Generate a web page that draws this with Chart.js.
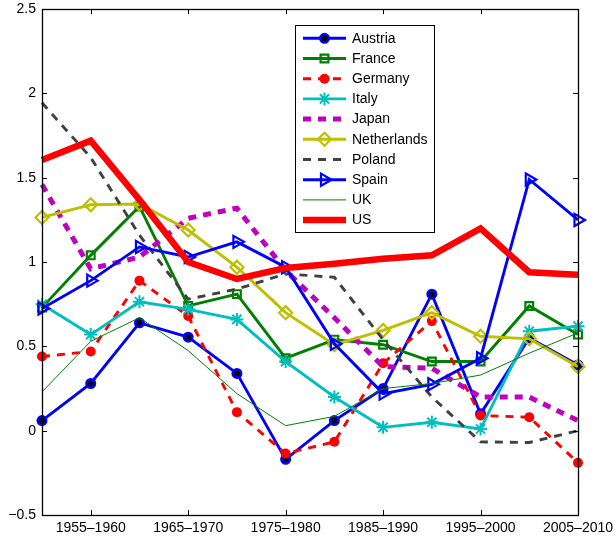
<!DOCTYPE html>
<html>
<head>
<meta charset="utf-8">
<script src="https://cdn.jsdelivr.net/npm/chart.js@4/dist/chart.umd.min.js"></script>
<style>
  html, body { margin: 0; padding: 0; background: #fff; }
</style>
</head>
<body>
<canvas id="chart" width="615" height="539"></canvas>
<script>
const periods = ["1950–1955", "1955–1960", "1960–1965", "1965–1970", "1970–1975", "1975–1980",
  "1980–1985", "1985–1990", "1990–1995", "1995–2000", "2000–2005", "2005–2010"];

const austria = [0.06, 0.28, 0.64, 0.555, 0.34, -0.17, 0.06, 0.25, 0.81, 0.10, 0.55, 0.39];
const france = [0.73, 1.04, 1.33, 0.74, 0.81, 0.43, 0.54, 0.51, 0.41, 0.41, 0.74, 0.57];
const germany = [0.44, 0.47, 0.89, 0.68, 0.11, -0.135, -0.066, 0.40, 0.65, 0.09, 0.08, -0.19];
const italy = [0.75, 0.57, 0.765, 0.72, 0.66, 0.41, 0.20, 0.02, 0.05, 0.01, 0.59, 0.62];
const japan = [1.46, 0.96, 1.03, 1.26, 1.32, 0.95, 0.67, 0.38, 0.37, 0.20, 0.20, 0.06];
const netherlands = [1.265, 1.34, 1.345, 1.19, 0.97, 0.70, 0.51, 0.595, 0.70, 0.56, 0.545, 0.38];
const poland = [1.945, 1.62, 1.16, 0.78, 0.84, 0.93, 0.91, 0.54, 0.20, -0.066, -0.07, 0.0];
const spain = [0.725, 0.89, 1.09, 1.03, 1.12, 0.97, 0.515, 0.22, 0.275, 0.43, 1.49, 1.25];
const uk = [0.23, 0.53, 0.67, 0.475, 0.22, 0.03, 0.085, 0.25, 0.28, 0.33, 0.46, 0.58];
const us = [1.605, 1.72, 1.37, 1.0, 0.90, 0.965, 0.99, 1.02, 1.04, 1.20, 0.94, 0.925];

const FONT = "'Liberation Sans', Arial, Helvetica, sans-serif";
const none = "rgba(0,0,0,0)";

function series(label, data, color, opts) {
  return Object.assign({
    label, data,
    borderColor: color,
    borderWidth: 2.9,
    pointStyle: false,
    pointRadius: 0,
    pointBorderColor: color,
    pointBackgroundColor: none,
    pointBorderWidth: 2,
    tension: 0,
    clip: false,
  }, opts);
}

const datasets = [
  series("Austria", austria, "#0000ff", { pointStyle: "circle", pointRadius: 4.2, pointBorderWidth: 2.6, pointBackgroundColor: "#000" }),
  series("France", france, "#008000", { pointStyle: "rect", pointRadius: 5.5, pointBorderWidth: 2.2 }),
  series("Germany", germany, "#ff0000", { borderDash: [8, 7], pointStyle: "circle", pointRadius: 5, pointBorderWidth: 0, pointBackgroundColor: "#ff0000" }),
  series("Italy", italy, "#00bfbf", { pointStyle: "star", pointRadius: 6.5, pointBorderWidth: 2 }),
  series("Japan", japan, "#bf00bf", { borderWidth: 5, borderDash: [8, 7] }),
  series("Netherlands", netherlands, "#bfbf00", { pointStyle: "rectRot", pointRadius: 6.5, pointBorderWidth: 2.2 }),
  series("Poland", poland, "#404040", { borderDash: [8, 7] }),
  series("Spain", spain, "#0000ff", { pointStyle: "triangle", pointRotation: 90, pointRadius: 7, pointBorderWidth: 2.2 }),
  series("UK", uk, "#008000", { borderWidth: 1 }),
  series("US", us, "#ff0000", { borderWidth: 6.5 }),
];
// later series drawn on top, like the original
datasets.forEach((d, i) => { d.order = datasets.length - i; });

const axesBox = {
  id: "axesBox",
  afterDatasetsDraw(chart) {
    const { ctx, chartArea: a, scales: { x, y } } = chart;
    ctx.save();
    ctx.strokeStyle = "#000";
    ctx.lineWidth = 1;
    ctx.setLineDash([]);
    ctx.beginPath();
    y.ticks.forEach((t, i) => {
      const py = Math.round(y.getPixelForTick(i)) + 0.5;
      ctx.moveTo(a.left, py); ctx.lineTo(a.left + 5, py);
      ctx.moveTo(a.right, py); ctx.lineTo(a.right - 5, py);
    });
    x.ticks.forEach((t, i) => {
      if (i % 2 !== 1) return;
      const px = Math.round(x.getPixelForTick(i)) + 0.5;
      ctx.moveTo(px, a.bottom); ctx.lineTo(px, a.bottom - 5);
      ctx.moveTo(px, a.top); ctx.lineTo(px, a.top + 5);
    });
    ctx.stroke();
    ctx.lineWidth = 1.3;
    ctx.strokeRect(Math.round(a.left) + 0.5, Math.round(a.top) + 0.5,
      Math.round(a.right - a.left), Math.round(a.bottom - a.top));
    ctx.restore();
  },
};

const boxLegend = {
  id: "boxLegend",
  afterDraw(chart) {
    const ctx = chart.ctx;
    const left = 295, top = 25, right = 434, bottom = 232;
    ctx.save();
    ctx.fillStyle = "#fff";
    ctx.fillRect(left, top, right - left, bottom - top);
    ctx.strokeStyle = "#000";
    ctx.lineWidth = 1;
    ctx.strokeRect(left + 0.5, top + 0.5, right - left, bottom - top);
    chart.data.datasets.forEach((d, i) => {
      const yy = 38.3 + i * 20.2;
      ctx.strokeStyle = d.borderColor;
      ctx.lineWidth = d.borderWidth;
      ctx.setLineDash(d.borderDash || []);
      ctx.beginPath();
      ctx.moveTo(303, yy);
      ctx.lineTo(346, yy);
      ctx.stroke();
      if (d.pointStyle) {
        ctx.setLineDash([]);
        ctx.fillStyle = d.pointBackgroundColor;
        ctx.strokeStyle = d.pointBorderColor;
        ctx.lineWidth = d.pointBorderWidth;
        Chart.helpers.drawPoint(ctx, {
          pointStyle: d.pointStyle,
          radius: d.pointRadius,
          rotation: d.pointRotation || 0,
          borderWidth: d.pointBorderWidth,
        }, 324.5, yy);
      }
      ctx.fillStyle = "#000";
      ctx.font = "14px " + FONT;
      ctx.textBaseline = "middle";
      ctx.textAlign = "left";
      ctx.fillText(d.label, 352, yy + 0.5);
    });
    ctx.restore();
  },
};

new Chart(document.getElementById("chart"), {
  type: "line",
  data: { labels: periods, datasets },
  options: {
    responsive: false,
    animation: false,
    events: [],
    layout: { padding: { left: 0, right: 37, top: 8, bottom: 0 } },
    plugins: { legend: { display: false }, tooltip: { enabled: false } },
    scales: {
      x: {
        type: "category",
        offset: false,
        grid: { display: false, drawTicks: false },
        border: { display: false },
        afterFit: (s) => { s.height = 24; s.paddingLeft = 0; s.paddingRight = 0; },
        ticks: {
          autoSkip: false,
          maxRotation: 0,
          padding: 5,
          color: "#000",
          font: { family: FONT, size: 14 },
          callback: (v, i) => (i % 2 === 1 ? periods[i] : ""),
        },
      },
      y: {
        min: -0.5,
        max: 2.5,
        grid: { display: false, drawTicks: false },
        border: { display: false },
        afterFit: (s) => { s.width = 42; s.paddingTop = 0; s.paddingBottom = 0; },
        ticks: {
          stepSize: 0.5,
          padding: 6,
          color: "#000",
          font: { family: FONT, size: 14 },
          callback: (v) => (v < 0 ? "\u2212" + Math.abs(v) : String(v)),
        },
      },
    },
  },
  plugins: [axesBox, boxLegend],
});
</script>
</body>
</html>
